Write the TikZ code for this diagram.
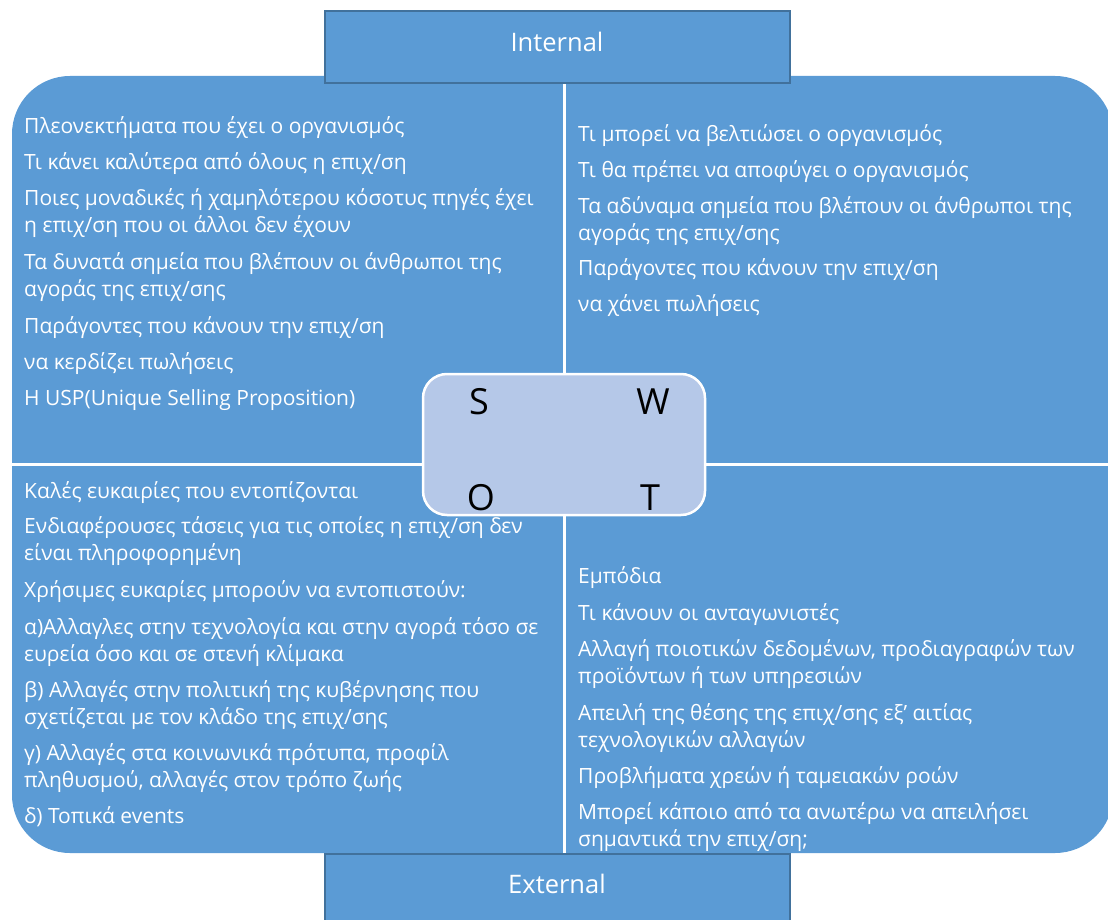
\documentclass[tikz,border=0pt]{standalone}
\usepackage{fontspec}
\setmainfont{Open Sans}
\definecolor{swblue}{RGB}{91,155,213}
\definecolor{swborder}{RGB}{65,113,156}
\definecolor{swlight}{RGB}{181,200,232}
\tikzset{
  body/.style={anchor=north west, inner sep=0pt, align=left, text=white,
    font=\fontsize{21}{27}\selectfont},
  headbox/.style={fill=swblue, draw=swborder, line width=2pt,
    minimum width=465pt, minimum height=72pt, inner sep=0pt},
  headtext/.style={text=white, font=\fontsize{25.5}{30}\selectfont, inner sep=0pt},
  letter/.style={text=black, font=\fontsize{36}{40}\selectfont, inner sep=0pt},
  divider/.style={draw=white, line width=3pt}
}
\begin{document}
\begin{tikzpicture}[x=1pt,y=-1pt]
\useasboundingbox (0,0) rectangle (1108,920);
\clip (0,0) rectangle (1108,920);
% main frame
\node[fill=swblue, rounded corners=58pt, minimum width=1101pt, minimum height=777pt, inner sep=0pt] (frame) at (562.5,464.5) {};
% dividers
\coordinate (vtop) at (564,80);
\coordinate (vbot) at (564,856);
\coordinate (hl) at (8,464);
\coordinate (hr) at (1112,464);
\draw[divider] (vtop) -- (vbot);
\draw[divider] (hl) -- (hr);
% header boxes
\node[headbox] (internal) at (557,47.5) {};
\node[headtext] (internaltext) at (557,42) {Internal};
\node[headbox, minimum height=80pt] (external) at (557.5,894) {};
\node[headtext] (externaltext) at (557,884) {External};
% center box
\node[fill=swlight, draw=white, line width=2.5pt, rounded corners=24pt, minimum width=282pt, minimum height=141pt, inner sep=0pt] (center) at (564,444.5) {};
\node[letter] (S) at (479,402) {S};
\node[letter] (W) at (653,402) {W};
\node[letter] (O) at (481,498) {O};
\node[letter] (T) at (650,498) {T};
% texts
\node[body] (tl) at (24,114.1) {\strut Πλεονεκτήματα που έχει ο οργανισμός\\[9pt]
\strut Τι κάνει καλύτερα από όλους η επιχ/ση\\[9pt]
\strut Ποιες μοναδικές ή χαμηλότερου κόσοτυς πηγές έχει\\
\strut η επιχ/ση που οι άλλοι δεν έχουν\\[10pt]
\strut Τα δυνατά σημεία που βλέπουν οι άνθρωποι της\\
\strut αγοράς της επιχ/σης\\[10pt]
\strut Παράγοντες που κάνουν την επιχ/ση\\[9pt]
\strut να κερδίζει πωλήσεις\\[9pt]
\strut Η USP(Unique Selling Proposition)};
\node[body] (tr) at (578,122.1) {\strut Τι μπορεί να βελτιώσει ο οργανισμός\\[9pt]
\strut Τι θα πρέπει να αποφύγει ο οργανισμός\\[9pt]
\strut Τα αδύναμα σημεία που βλέπουν οι άνθρωποι της\\
\strut αγοράς της επιχ/σης\\[8pt]
\strut Παράγοντες που κάνουν την επιχ/ση\\[9pt]
\strut να χάνει πωλήσεις};
\node[body] (bl) at (24,479.1) {\strut Καλές ευκαιρίες που εντοπίζονται\\[8pt]
\strut Ενδιαφέρουσες τάσεις για τις οποίες η επιχ/ση δεν\\
\strut είναι πληροφορημένη\\[10pt]
\strut Χρήσιμες ευκαρίες μπορούν να εντοπιστούν:\\[10pt]
\strut α)Αλλαγλες στην τεχνολογία και στην αγορά τόσο σε\\
\strut ευρεία όσο και σε στενή κλίμακα\\[9pt]
\strut β) Αλλαγές στην πολιτική της κυβέρνησης που\\
\strut σχετίζεται με τον κλάδο της επιχ/σης\\[9pt]
\strut γ) Αλλαγές στα κοινωνικά πρότυπα, προφίλ\\
\strut πληθυσμού, αλλαγές στον τρόπο ζωής\\[9pt]
\strut δ) Τοπικά events};
\node[body] (br) at (578,564.1) {\strut Εμπόδια\\[10pt]
\strut Τι κάνουν οι ανταγωνιστές\\[9pt]
\strut Αλλαγή ποιοτικών δεδομένων, προδιαγραφών των\\
\strut προϊόντων ή των υπηρεσιών\\[10pt]
\strut Απειλή της θέσης της επιχ/σης εξ' αιτίας\\
\strut τεχνολογικών αλλαγών\\[9pt]
\strut Προβλήματα χρεών ή ταμειακών ροών\\[9pt]
\strut Μπορεί κάποιο από τα ανωτέρω να απειλήσει\\
\strut σημαντικά την επιχ/ση;};
\end{tikzpicture}
\end{document}
